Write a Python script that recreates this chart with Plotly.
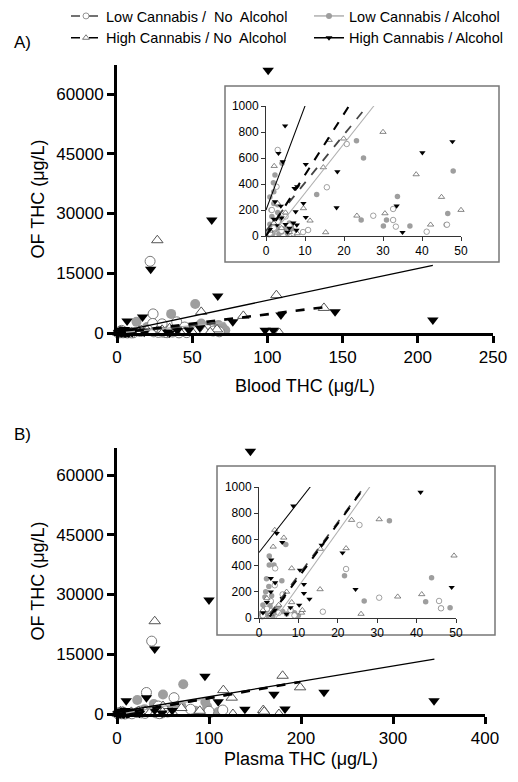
import plotly.graph_objects as go

# ---------------- DATA ----------------
# Panel A: Blood THC (x) vs OF THC (y)
A_lowno_x = [22, 24, 23.7, 39.7, 30, 45, 60, 64, 68, 3, 2.7, 15.6, 20.7, 27.5, 32.6, 32.6, 33.3, 41.2, 46.4, 10.8, 9.5, 1, 2, 3, 4, 5, 6, 1.5, 7]
A_lowno_y = [18000, 4800, 2400, 2800, 2300, 1500, 900, 500, 300, 662, 379, 375, 708, 156, 208, 123, 72, 33, 87, 46, 30, 20, 60, 110, 40, 150, 80, 200, 20]

A_lowalc_x = [52, 36, 13, 67.5, 56, 70, 40, 20, 60, 72, 48, 30, 25, 4.1, 2.3, 1.9, 13, 23.2, 33.7, 24.4, 30.9, 30.1, 36.9, 46.6, 46.2, 0.5, 1, 1.5, 2, 2.5, 3, 3.5, 4, 5, 6, 7, 1, 2,
              0.8, 1.2, 1.8, 2.2, 2.8, 3.3, 4.5, 5.5, 6.5, 3, 1.3]
A_lowalc_y = [7300, 4800, 2800, 2000, 2400, 1500, 1800, 1500, 1000, 700, 500, 1200, 600, 560, 469, 410, 320, 733, 303, 123, 123, 77, 77, 174, 87, 30, 90, 150, 250, 50, 180, 120, 30, 60, 100, 40, 300, 340,
              10, 60, 20, 110, 70, 15, 50, 20, 70, 240, 200]

A_highno_x = [26.8, 56, 84, 106, 137.6, 108, 58.5, 66.5, 35, 45, 30, 50, 62, 2.1, 14.7, 16.2, 19.9, 9.6, 11.3, 30.5, 23.3, 42.2, 38.5, 15.3, 1, 2, 3, 4, 5, 6, 8, 3.5]
A_highno_y = [23300, 5300, 4300, 9500, 6300, 0, 500, 900, 1200, 300, 800, 200, 200, 538, 528, 738, 749, 213, 118, 174, 156, 87, 474, 28, 40, 100, 250, 60, 180, 30, 20, 150]

A_highalc_x = [100.5, 63, 22.4, 67, 17, 6.7, 77, 145, 210, 98.5, 104, 109, 40, 55, 4.9, 3.2, 4.3, 10.2, 18.3, 7.3, 8, 9.6, 18.1, 7.6, 10.2, 2.3, 3.8, 33.5, 35, 40.1, 47.8, 7.9, 7.0, 5, 7.8, 1, 2, 3, 4, 5.5, 6]
A_highalc_y = [66000, 28400, 16000, 9300, 4000, 3000, 2800, 5350, 3260, 700, 700, 4500, 1100, 1400, 848, 636, 572, 551, 495, 367, 380, 251, 218, 187, 144, 264, 230, 231, 28, 641, 726, 85, 100, 90, 45, 50, 130, 80, 140, 30, 60]

# Panel B: Plasma THC (x) vs OF THC (y)
B_lowno_x = [37.7, 32, 62, 115, 45, 80, 100, 55, 25.5, 4.1, 22.1, 30.5, 45.7, 46.2, 16.2, 1, 2, 3, 5, 6, 8, 9, 4]
B_lowno_y = [18300, 5400, 4100, 1000, 2000, 1200, 700, 500, 710, 379, 374, 155, 130, 74, 48, 20, 70, 130, 40, 180, 60, 20, 250]

B_lowalc_x = [72, 50, 22, 96, 98, 101, 85, 70, 60, 40, 30, 110, 33.1, 6.8, 2.6, 2.6, 3.8, 5.8, 21.7, 43.8, 42.3, 46.2, 48.5, 26.7, 1.9, 2.5, 0.5, 1, 1.5, 2, 3, 4, 5, 7, 8, 10,
              0.8, 1.3, 2.2, 2.8, 3.5, 4.5, 6, 9, 1.7, 3.2]
B_lowalc_y = [7450, 4900, 3500, 3000, 1800, 200, 800, 2000, 1500, 2500, 1200, 500, 743, 562, 473, 404, 404, 285, 323, 308, 125, 74, 79, 130, 300, 240, 30, 100, 160, 60, 120, 40, 90, 30, 60, 20,
              10, 50, 20, 90, 15, 70, 50, 40, 200, 170]

B_highno_x = [41, 115.6, 124.7, 126, 159, 180, 199, 160, 176, 70, 50, 90, 60, 23.5, 30.5, 4, 6.3, 3.6, 49.5, 22.1, 15.6, 8.3, 15.5, 35.2, 41.3, 25.9, 8.3, 10.8, 11, 1, 2, 3, 5, 7]
B_highno_y = [23300, 6000, 4100, 0, 1000, 9600, 6700, 600, 0, 1500, 2000, 800, 400, 748, 753, 672, 613, 544, 476, 532, 527, 379, 219, 163, 181, 31, 120, 40, 60, 60, 150, 30, 100, 200]

B_highalc_x = [145, 100, 41, 95.6, 32, 10, 110, 139, 170.6, 225, 344.6, 182.6, 60, 41, 8.7, 4.5, 5.9, 21.2, 15.9, 3.1, 10.4, 3, 4.1, 11.4, 11.4, 12.8, 24.5, 48.9, 10.2, 1, 2, 3, 4, 6, 7, 8]
B_highalc_y = [66000, 28600, 16300, 9500, 4100, 3300, 3100, 1200, 4950, 5450, 3350, 1250, 900, 960, 855, 646, 578, 498, 557, 443, 366, 303, 270, 257, 188, 145, 219, 234, 99, 40, 120, 200, 60, 150, 30, 80]

# Linear regressions: (intercept, slope, x_max)
A_fits = {"lowno": (40, 37, 68), "lowalc": (-50, 38, 72), "highno": (0, 47, 137.6), "highalc": (200, 80, 210)}
B_fits = {"lowno": (-80, 40.5, 125), "lowalc": (-180, 42, 101), "highno": (-100, 41, 199), "highalc": (500, 38.5, 345)}

group_names = {
    "lowno": "Low Cannabis /\u00a0 No\u00a0 Alcohol",
    "lowalc": "Low Cannabis / Alcohol",
    "highno": "High Cannabis / No\u00a0 Alcohol",
    "highalc": "High Cannabis / Alcohol",
}

y_ticks_main = [0, 15000, 30000, 45000, 60000]
A_x_ticks = [0, 50, 100, 150, 200, 250]
B_x_ticks = [0, 100, 200, 300, 400]
inset_x_ticks = [0, 10, 20, 30, 40, 50]
inset_y_ticks = [0, 200, 400, 600, 800, 1000]

# ---------------- STYLES ----------------
FONT = "Liberation Sans, Arial, sans-serif"
OFF = 8                      # page body margin
W, H = 518 - OFF, 782 - OFF  # figure size so that it fits the window

marker_style = {
    "lowno": dict(symbol="circle", color="white", line=dict(color="#7a7a7a", width=1)),
    "lowalc": dict(symbol="circle", color="#9e9e9e", line=dict(color="#9e9e9e", width=0)),
    "highno": dict(symbol="triangle-up", color="white", line=dict(color="#555555", width=1)),
    "highalc": dict(symbol="triangle-down", color="black", line=dict(color="black", width=0)),
}
line_style = {
    "lowno": dict(color="#444444", width=2.2, dash="dash"),
    "lowalc": dict(color="#b0b0b0", width=1.3, dash="solid"),
    "highno": dict(color="black", width=2.6, dash="dash"),
    "highalc": dict(color="black", width=1.3, dash="solid"),
}

data = {
    "A": {"lowno": (A_lowno_x, A_lowno_y), "lowalc": (A_lowalc_x, A_lowalc_y),
          "highno": (A_highno_x, A_highno_y), "highalc": (A_highalc_x, A_highalc_y)},
    "B": {"lowno": (B_lowno_x, B_lowno_y), "lowalc": (B_lowalc_x, B_lowalc_y),
          "highno": (B_highno_x, B_highno_y), "highalc": (B_highalc_x, B_highalc_y)},
}
fits = {"A": A_fits, "B": B_fits}
axes = {"A": (("x", "y"), ("x2", "y2")), "B": (("x3", "y3"), ("x4", "y4"))}

order = ["lowalc", "lowno", "highno", "highalc"]

fig = go.Figure()

for panel in ["A", "B"]:
    (mx, my), (ix, iy) = axes[panel]
    for g in order:
        xs, ys = data[panel][g]
        ms = marker_style[g]
        fig.add_trace(go.Scatter(x=xs, y=ys, mode="markers", xaxis=mx, yaxis=my,
                                 marker=dict(size=10, **ms), showlegend=False, cliponaxis=False,
                                 hoverinfo="skip"))
        sx = [a for a, b in zip(xs, ys) if 0 <= a <= 50 and 0 <= b <= 1000]
        sy = [b for a, b in zip(xs, ys) if 0 <= a <= 50 and 0 <= b <= 1000]
        ims = dict(ms)
        ims["line"] = dict(color=ms["line"]["color"], width=0.7 if ms["line"]["width"] else 0)
        fig.add_trace(go.Scatter(x=sx, y=sy, mode="markers", xaxis=ix, yaxis=iy,
                                 marker=dict(size=5.5, **ims), showlegend=False, cliponaxis=False,
                                 hoverinfo="skip"))
    for g in ["lowalc", "lowno", "highno", "highalc"]:
        b0, b1, xmax = fits[panel][g]
        lx = [0, xmax]
        ly = [b0 + b1 * v for v in lx]
        fig.add_trace(go.Scatter(x=lx, y=ly, mode="lines", xaxis=mx, yaxis=my,
                                 line=line_style[g], showlegend=False, hoverinfo="skip"))
        ils = dict(line_style[g])
        ils["width"] = max(1.0, ils["width"] * 0.8)
        fig.add_trace(go.Scatter(x=lx, y=ly, mode="lines", xaxis=ix, yaxis=iy,
                                 line=ils, showlegend=False, hoverinfo="skip"))

# legend entries: two columns = two legends
legend_of = {"lowno": "legend", "highno": "legend", "lowalc": "legend2", "highalc": "legend2"}
for g in ["lowno", "highno", "lowalc", "highalc"]:
    ms = dict(marker_style[g])
    ms["line"] = dict(color=ms["line"]["color"], width=0.8 if ms["line"]["width"] else 0)
    ls = dict(line_style[g])
    ls["width"] = 1.5
    fig.add_trace(go.Scatter(x=[None], y=[None], mode="lines+markers", name=group_names[g],
                             marker=dict(size=6, **ms), line=ls, xaxis="x", yaxis="y",
                             legend=legend_of[g]))

def px(v):
    return (v - OFF) / W

def py(v):
    return 1 - (v - OFF) / H

main_axis = dict(showline=True, linecolor="black", linewidth=3, ticks="outside", ticklen=7,
                 tickwidth=3, tickcolor="black", showgrid=False, zeroline=False, automargin=False,
                 tickfont=dict(family=FONT, size=17, color="black"))
inset_axis = dict(showline=True, linecolor="#333333", linewidth=1, ticks="outside", ticklen=4,
                  tickwidth=1, tickcolor="#333333", showgrid=False, zeroline=False, automargin=False,
                  tickfont=dict(family=FONT, size=12, color="black"))

title_font = dict(family=FONT, size=18, color="black")
leg_common = dict(orientation="v", xanchor="left", yanchor="top", font=dict(family=FONT, size=14.5, color="black"),
                  bgcolor="rgba(0,0,0,0)", itemwidth=30, tracegroupgap=0)

fig.update_layout(
    template="none",
    width=W, height=H, margin=dict(l=0, r=0, t=0, b=0, autoexpand=False),
    paper_bgcolor="white", plot_bgcolor="white",
    font=dict(family=FONT, color="black"),
    showlegend=True,
    legend=dict(x=px(66), y=py(0), **leg_common),
    legend2=dict(x=px(309), y=py(0), **leg_common),
    xaxis=dict(domain=[px(117), px(493)], range=[0, 250], tickvals=A_x_ticks, anchor="y",
               title=dict(text="Blood THC (\u03bcg/L)", font=title_font, standoff=13), **main_axis),
    yaxis=dict(domain=[py(333), py(65)], range=[0, 67300], tickvals=y_ticks_main, tickformat="d", anchor="x",
               title=dict(text="OF THC (\u03bcg/L)", font=title_font, standoff=8), **main_axis),
    xaxis2=dict(domain=[px(266), px(461)], range=[0, 50], tickvals=inset_x_ticks, anchor="y2", **inset_axis),
    yaxis2=dict(domain=[py(236), py(106)], range=[0, 1000], tickvals=inset_y_ticks, anchor="x2", **inset_axis),
    xaxis3=dict(domain=[px(117), px(485)], range=[0, 400], tickvals=B_x_ticks, anchor="y3",
                title=dict(text="Plasma THC (\u03bcg/L)", font=title_font, standoff=5), **main_axis),
    yaxis3=dict(domain=[py(714), py(448)], range=[0, 66800], tickvals=y_ticks_main, tickformat="d", anchor="x3",
                title=dict(text="OF THC (\u03bcg/L)", font=title_font, standoff=8), **main_axis),
    xaxis4=dict(domain=[px(259), px(456)], range=[0, 50], tickvals=inset_x_ticks, anchor="y4", **inset_axis),
    yaxis4=dict(domain=[py(618), py(487)], range=[0, 1000], tickvals=inset_y_ticks, anchor="x4", **inset_axis),
    shapes=[
        dict(type="rect", xref="paper", yref="paper", x0=px(225), x1=px(499), y0=py(262), y1=py(86),
             line=dict(color="#777777", width=1.5), fillcolor="white", layer="below"),
        dict(type="rect", xref="paper", yref="paper", x0=px(217), x1=px(495), y0=py(635), y1=py(466),
             line=dict(color="#777777", width=1.5), fillcolor="white", layer="below"),
    ],
    annotations=[
        dict(text="A)", xref="paper", yref="paper", x=px(12), y=py(42), xanchor="left", yanchor="middle",
             showarrow=False, font=dict(family=FONT, size=17, color="black")),
        dict(text="B)", xref="paper", yref="paper", x=px(12), y=py(434), xanchor="left", yanchor="middle",
             showarrow=False, font=dict(family=FONT, size=17, color="black")),
    ],
)

fig.write_html("out.html")
